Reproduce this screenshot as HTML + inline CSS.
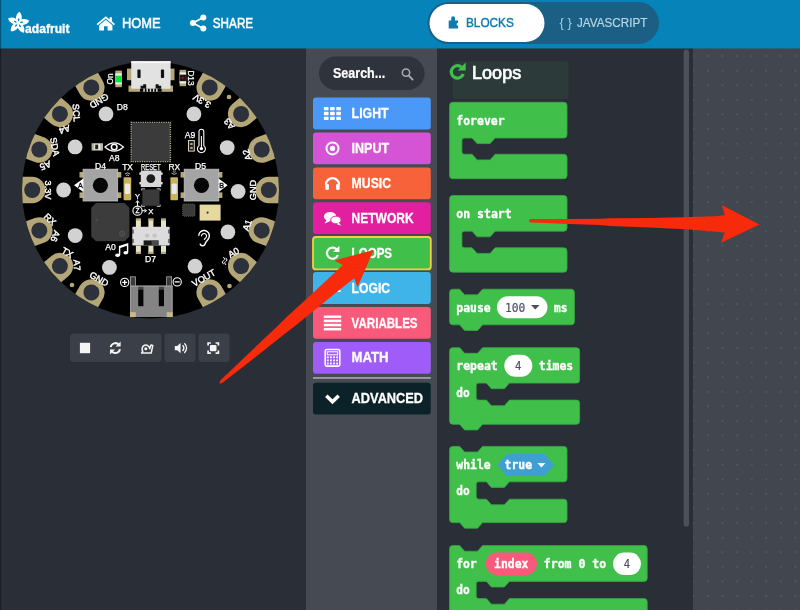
<!DOCTYPE html>
<html lang="en"><head><meta charset="utf-8"><title>MakeCode - Loops</title>
<style>
*{box-sizing:border-box;margin:0;padding:0}
html,body{width:800px;height:610px;overflow:hidden;background:#2a2f37;}
body{position:relative;font-family:"Liberation Sans",sans-serif;color:#fff;}
.abs{position:absolute}
#header{position:absolute;left:0;top:0;width:800px;height:48px;background:#0684b9;}
#sim{position:absolute;left:0;top:48px;width:306px;height:562px;background:#2a2f37;}
#toolbox{position:absolute;left:306px;top:48px;width:131px;height:562px;background:#454a53;}
#flyout{position:absolute;left:437px;top:48px;width:256px;height:562px;background:#2a2f37;}
#ws{position:absolute;left:693px;top:48px;width:107px;height:562px;background-color:#42464f;
 background-image:radial-gradient(circle at 1px 1px,#50555e 0.8px,rgba(80,85,94,0) 1.5px);background-size:14.6px 14.6px;background-position:13.9px 7.1px;}
svg{position:absolute;left:0;top:0;overflow:visible;will-change:transform}
text{white-space:pre}
</style></head>
<body>
<div id="sim"></div>
<div id="toolbox"></div>
<div id="flyout"></div>
<div id="ws"></div>
<svg width="800" height="610" viewBox="0 0 800 610">
<defs><clipPath id="bclip"><circle cx="150.5" cy="190.0" r="128.5"/></clipPath></defs>
<circle cx="150.5" cy="190.0" r="128.5" fill="#000"/>
<g clip-path="url(#bclip)">
<g transform="translate(91.35 87.55) rotate(-30.0)"><path d="M-13.2 0 V-16 H13.2 V0 A13.2 13.2 0 0 1 -13.2 0 Z" fill="#b4a676"/><circle cx="0" cy="0" r="8" fill="#2c313b"/></g>
<g transform="translate(59.88 113.96) rotate(-50.0)"><path d="M-13.2 0 V-16 H13.2 V0 A13.2 13.2 0 0 1 -13.2 0 Z" fill="#b4a676"/><circle cx="0" cy="0" r="8" fill="#2c313b"/></g>
<g transform="translate(39.33 149.54) rotate(-70.0)"><path d="M-13.2 0 V-16 H13.2 V0 A13.2 13.2 0 0 1 -13.2 0 Z" fill="#b4a676"/><circle cx="0" cy="0" r="8" fill="#2c313b"/></g>
<g transform="translate(32.20 190.00) rotate(-90.0)"><path d="M-13.2 0 V-16 H13.2 V0 A13.2 13.2 0 0 1 -13.2 0 Z" fill="#b4a676"/><circle cx="0" cy="0" r="8" fill="#2c313b"/></g>
<g transform="translate(39.33 230.46) rotate(-110.0)"><path d="M-13.2 0 V-16 H13.2 V0 A13.2 13.2 0 0 1 -13.2 0 Z" fill="#b4a676"/><circle cx="0" cy="0" r="8" fill="#2c313b"/></g>
<g transform="translate(59.88 266.04) rotate(-130.0)"><path d="M-13.2 0 V-16 H13.2 V0 A13.2 13.2 0 0 1 -13.2 0 Z" fill="#b4a676"/><circle cx="0" cy="0" r="8" fill="#2c313b"/></g>
<g transform="translate(91.35 292.45) rotate(-150.0)"><path d="M-13.2 0 V-16 H13.2 V0 A13.2 13.2 0 0 1 -13.2 0 Z" fill="#b4a676"/><circle cx="0" cy="0" r="8" fill="#2c313b"/></g>
<g transform="translate(209.65 87.55) rotate(30.0)"><path d="M-13.2 0 V-16 H13.2 V0 A13.2 13.2 0 0 1 -13.2 0 Z" fill="#b4a676"/><circle cx="0" cy="0" r="8" fill="#2c313b"/></g>
<g transform="translate(241.12 113.96) rotate(50.0)"><path d="M-13.2 0 V-16 H13.2 V0 A13.2 13.2 0 0 1 -13.2 0 Z" fill="#b4a676"/><circle cx="0" cy="0" r="8" fill="#2c313b"/></g>
<g transform="translate(261.67 149.54) rotate(70.0)"><path d="M-13.2 0 V-16 H13.2 V0 A13.2 13.2 0 0 1 -13.2 0 Z" fill="#b4a676"/><circle cx="0" cy="0" r="8" fill="#2c313b"/></g>
<g transform="translate(268.80 190.00) rotate(90.0)"><path d="M-13.2 0 V-16 H13.2 V0 A13.2 13.2 0 0 1 -13.2 0 Z" fill="#b4a676"/><circle cx="0" cy="0" r="8" fill="#2c313b"/></g>
<g transform="translate(261.67 230.46) rotate(110.0)"><path d="M-13.2 0 V-16 H13.2 V0 A13.2 13.2 0 0 1 -13.2 0 Z" fill="#b4a676"/><circle cx="0" cy="0" r="8" fill="#2c313b"/></g>
<g transform="translate(241.12 266.04) rotate(130.0)"><path d="M-13.2 0 V-16 H13.2 V0 A13.2 13.2 0 0 1 -13.2 0 Z" fill="#b4a676"/><circle cx="0" cy="0" r="8" fill="#2c313b"/></g>
<g transform="translate(209.65 292.45) rotate(150.0)"><path d="M-13.2 0 V-16 H13.2 V0 A13.2 13.2 0 0 1 -13.2 0 Z" fill="#b4a676"/><circle cx="0" cy="0" r="8" fill="#2c313b"/></g>
</g>
<circle cx="229.0" cy="97.0" r="2.3" fill="#b4a676"/>
<circle cx="229.5" cy="286.0" r="2.3" fill="#b4a676"/>
<circle cx="72.0" cy="285.0" r="2.3" fill="#b4a676"/>
<text x="99.15" y="104.37" font-family="Liberation Sans, sans-serif" font-size="9.20" fill="#fff" stroke="#fff" stroke-width="0.40" text-anchor="middle" transform="rotate(150.0 99.15 101.06)">GND</text>
<text x="76.44" y="116.11" font-family="Liberation Sans, sans-serif" font-size="9.20" fill="#fff" stroke="#fff" stroke-width="0.40" text-anchor="middle" transform="rotate(86.0 76.44 112.80)">SCL</text>
<text x="64.67" y="132.95" font-family="Liberation Sans, sans-serif" font-size="9.20" fill="#fff" stroke="#fff" stroke-width="0.40" text-anchor="middle" transform="rotate(163.0 64.67 129.64)">A4</text>
<text x="54.89" y="150.11" font-family="Liberation Sans, sans-serif" font-size="9.20" fill="#fff" stroke="#fff" stroke-width="0.40" text-anchor="middle" transform="rotate(80.0 54.89 146.80)">SDA</text>
<text x="45.50" y="168.91" font-family="Liberation Sans, sans-serif" font-size="9.20" fill="#fff" stroke="#fff" stroke-width="0.40" text-anchor="middle" transform="rotate(159.0 45.50 165.60)">A5</text>
<text x="47.80" y="193.31" font-family="Liberation Sans, sans-serif" font-size="9.20" fill="#fff" stroke="#fff" stroke-width="0.40" text-anchor="middle" transform="rotate(90.0 47.80 190.00)">3.3V</text>
<text x="50.17" y="222.55" font-family="Liberation Sans, sans-serif" font-size="9.20" fill="#fff" stroke="#fff" stroke-width="0.40" text-anchor="middle" transform="rotate(44.0 50.17 219.24)">RX</text>
<text x="55.31" y="239.59" font-family="Liberation Sans, sans-serif" font-size="9.20" fill="#fff" stroke="#fff" stroke-width="0.40" text-anchor="middle" transform="rotate(110.0 55.31 236.28)">A6</text>
<text x="67.44" y="255.71" font-family="Liberation Sans, sans-serif" font-size="9.20" fill="#fff" stroke="#fff" stroke-width="0.40" text-anchor="middle" transform="rotate(29.0 67.44 252.40)">TX</text>
<text x="77.05" y="268.45" font-family="Liberation Sans, sans-serif" font-size="9.20" fill="#fff" stroke="#fff" stroke-width="0.40" text-anchor="middle" transform="rotate(87.0 77.05 265.14)">A7</text>
<text x="99.15" y="282.25" font-family="Liberation Sans, sans-serif" font-size="9.20" fill="#fff" stroke="#fff" stroke-width="0.40" text-anchor="middle" transform="rotate(30.0 99.15 278.94)">GND</text>
<text x="201.85" y="104.37" font-family="Liberation Sans, sans-serif" font-size="9.20" fill="#fff" stroke="#fff" stroke-width="0.40" text-anchor="middle" transform="rotate(210.0 201.85 101.06)">3.3V</text>
<text x="229.17" y="127.30" font-family="Liberation Sans, sans-serif" font-size="9.20" fill="#fff" stroke="#fff" stroke-width="0.40" text-anchor="middle" transform="rotate(230.0 229.17 123.99)">A3</text>
<text x="247.01" y="158.19" font-family="Liberation Sans, sans-serif" font-size="9.20" fill="#fff" stroke="#fff" stroke-width="0.40" text-anchor="middle" transform="rotate(250.0 247.01 154.87)">A2</text>
<text x="253.20" y="193.31" font-family="Liberation Sans, sans-serif" font-size="9.20" fill="#fff" stroke="#fff" stroke-width="0.40" text-anchor="middle" transform="rotate(270.0 253.20 190.00)">GND</text>
<text x="247.01" y="228.44" font-family="Liberation Sans, sans-serif" font-size="9.20" fill="#fff" stroke="#fff" stroke-width="0.40" text-anchor="middle" transform="rotate(290.0 247.01 225.13)">A1</text>
<path d="M-3.4 1.2 q1.7 -3.6 3.4 -1.2 q1.7 2.4 3.4 -1.2 M-3.4 3.6 q1.7 -3.6 3.4 -1.2 q1.7 2.4 3.4 -1.2" transform="translate(225.44 261.25) rotate(-73.0) translate(0 -2)" fill="none" stroke="#fff" stroke-width="0.9"/>
<text x="233.56" y="255.71" font-family="Liberation Sans, sans-serif" font-size="9.20" fill="#fff" stroke="#fff" stroke-width="0.40" text-anchor="middle" transform="rotate(-29.0 233.56 252.40)">A0</text>
<text x="204.05" y="282.25" font-family="Liberation Sans, sans-serif" font-size="9.20" fill="#fff" stroke="#fff" stroke-width="0.40" text-anchor="middle" transform="rotate(330.0 201.85 278.94)">VOUT</text>
<circle cx="106.00" cy="113.90" r="7.4" fill="#d2d2d2"/>
<circle cx="75.10" cy="146.90" r="7.4" fill="#d2d2d2"/>
<circle cx="63.60" cy="190.00" r="7.4" fill="#d2d2d2"/>
<circle cx="75.20" cy="235.60" r="7.4" fill="#d2d2d2"/>
<circle cx="109.40" cy="267.40" r="7.4" fill="#d2d2d2"/>
<circle cx="193.90" cy="113.90" r="7.4" fill="#d2d2d2"/>
<circle cx="227.20" cy="147.60" r="7.4" fill="#d2d2d2"/>
<circle cx="238.10" cy="191.40" r="7.4" fill="#d2d2d2"/>
<circle cx="227.90" cy="231.90" r="7.4" fill="#d2d2d2"/>
<circle cx="195.00" cy="266.20" r="7.4" fill="#d2d2d2"/>
<rect x="127" y="68.6" width="47.5" height="11.6" fill="#b4a676"/>
<rect x="128.5" y="85.6" width="44.5" height="6.2" fill="#b4a676"/>
<rect x="131.2" y="61.2" width="39.4" height="27.6" rx="1" fill="#e2e2e2"/>
<rect x="131.2" y="61.2" width="39.4" height="2" fill="#f6f6f6"/>
<rect x="137.4" y="69.6" width="3.2" height="8.4" rx="0.8" fill="#111"/><rect x="160.9" y="69.6" width="3.2" height="8.4" rx="0.8" fill="#111"/>
<path d="M140.6 88.8 v-3 h2.6 v-1.6 h3 v4.6 Z M161.2 88.8 v-3 h-2.6 v-1.6 h-3 v4.6 Z" fill="#111"/>
<rect x="140" y="88.8" width="21.6" height="3" fill="#000"/><rect x="143.30" y="88.6" width="1.5" height="3.2" fill="#d8d8d8"/><rect x="146.50" y="88.6" width="1.5" height="3.2" fill="#d8d8d8"/><rect x="149.70" y="88.6" width="1.5" height="3.2" fill="#d8d8d8"/><rect x="152.90" y="88.6" width="1.5" height="3.2" fill="#d8d8d8"/><rect x="156.10" y="88.6" width="1.5" height="3.2" fill="#d8d8d8"/>
<rect x="115.3" y="70.6" width="6.6" height="16.6" fill="#b4a676"/><rect x="115.3" y="73.4" width="6.6" height="11" fill="#f0f0f0"/><rect x="115.3" y="75.6" width="6.6" height="6.8" fill="#0fe23a"/>
<text x="110.20" y="79.00" dy="2.9" font-family="Liberation Sans, sans-serif" font-size="8.30" font-weight="normal" fill="#fff" stroke="#fff" stroke-width="0.25" text-anchor="middle" transform="rotate(-90.0 110.20 79.00)">On</text>
<rect x="179.6" y="69.8" width="6.5" height="16.4" fill="#b4a676"/><rect x="179.6" y="72.4" width="6.5" height="11" fill="#f0f0f0"/><rect x="179.6" y="74.6" width="6.5" height="6.6" fill="#1a1a1a"/><circle cx="182.6" cy="77.8" r="0.9" fill="#e01010"/>
<text x="190.90" y="78.00" dy="2.9" font-family="Liberation Sans, sans-serif" font-size="8.30" font-weight="normal" fill="#fff" stroke="#fff" stroke-width="0.25" text-anchor="middle" transform="rotate(90.0 190.90 78.00)">D13</text>
<text x="122.30" y="110.20" font-family="Liberation Sans, sans-serif" font-size="8.60" font-weight="normal" fill="#fff" stroke="#fff" stroke-width="0.25" text-anchor="middle">D8</text>
<rect x="131.2" y="122.4" width="39.2" height="39.2" fill="#3a3a3a" stroke="#b5b094" stroke-width="1.4" stroke-dasharray="1.1 1.2"/>
<rect x="132.6" y="123.8" width="36.4" height="36.4" fill="#3b3b3b"/>
<rect x="91.6" y="143.2" width="11.4" height="7.4" fill="#b8b4a0"/><rect x="94.2" y="143.8" width="6.2" height="6.2" fill="#ecebe6"/><rect x="95.2" y="144.6" width="3" height="4.6" fill="#222"/>
<path d="M105 147 Q114.2 138.6 123.4 147 Q114.2 155.4 105 147 Z" fill="none" stroke="#fff" stroke-width="1.2"/><circle cx="114.2" cy="147" r="2.8" fill="none" stroke="#fff" stroke-width="1.5"/>
<text x="114.20" y="160.60" font-family="Liberation Sans, sans-serif" font-size="8.60" font-weight="normal" fill="#fff" stroke="#fff" stroke-width="0.25" text-anchor="middle">A8</text>
<rect x="188" y="140" width="6.8" height="11.6" fill="#d6d4c8"/><rect x="189" y="141" width="4.8" height="9.6" fill="#222"/><rect x="190.2" y="143" width="2.4" height="2" fill="#b4a676"/><rect x="190.2" y="147" width="2.4" height="2" fill="#b4a676"/>
<text x="190.00" y="138.20" font-family="Liberation Sans, sans-serif" font-size="8.60" font-weight="normal" fill="#fff" stroke="#fff" stroke-width="0.25" text-anchor="middle">A9</text>
<path d="M199 145.6 V131.6 a2.4 2.4 0 0 1 4.8 0 V145.6 a4 4 0 1 1 -4.8 0 Z" fill="none" stroke="#fff" stroke-width="1.1"/><circle cx="201.4" cy="148.6" r="1.7" fill="#fff"/><line x1="201.4" y1="136" x2="201.4" y2="148" stroke="#fff" stroke-width="1"/>
<rect x="79.5" y="172" width="41.8" height="5.6" fill="#b4a676"/><rect x="79.5" y="192.4" width="41.8" height="5.6" fill="#b4a676"/>
<rect x="83.1" y="169.2" width="34.6" height="31.8" fill="#a4a4a4" stroke="#c4c4c4" stroke-width="0.8"/>
<circle cx="100.4" cy="185.3" r="7.6" fill="#060606"/>
<text x="100.60" y="169.00" font-family="Liberation Sans, sans-serif" font-size="8.60" font-weight="normal" fill="#fff" stroke="#fff" stroke-width="0.25" text-anchor="middle">D4</text>
<rect x="180.6" y="172" width="41.8" height="5.6" fill="#b4a676"/><rect x="180.6" y="192.4" width="41.8" height="5.6" fill="#b4a676"/>
<rect x="184.2" y="169.2" width="34.6" height="31.8" fill="#a4a4a4" stroke="#c4c4c4" stroke-width="0.8"/>
<circle cx="201.5" cy="185.3" r="7.6" fill="#060606"/>
<text x="200.50" y="169.00" font-family="Liberation Sans, sans-serif" font-size="8.60" font-weight="normal" fill="#fff" stroke="#fff" stroke-width="0.25" text-anchor="middle">D5</text>
<path d="M74 185.2 L83.4 178.6 V192 Z" fill="#fff"/><text x="80.40" y="188.00" font-family="Liberation Sans, sans-serif" font-size="7.20" font-weight="normal" fill="#000" stroke="#000" stroke-width="0.30" text-anchor="middle">A</text>
<path d="M227.6 185.2 L218.6 178.6 V192 Z" fill="#fff"/><text x="221.60" y="188.00" font-family="Liberation Sans, sans-serif" font-size="7.20" font-weight="normal" fill="#000" stroke="#000" stroke-width="0.30" text-anchor="middle">B</text>
<rect x="123.6" y="177.2" width="7.6" height="23" rx="1" fill="#c9b45c"/><rect x="124.8" y="183.4" width="5.2" height="10.6" rx="1.6" fill="#e9e8ee"/>
<text x="127.50" y="169.60" font-family="Liberation Sans, sans-serif" font-size="8.40" font-weight="normal" fill="#fff" stroke="#fff" stroke-width="0.25" text-anchor="middle">TX</text>
<rect x="170.4" y="177.2" width="7.6" height="23" rx="1" fill="#c9b45c"/><rect x="171.6" y="183.4" width="5.2" height="10.6" rx="1.6" fill="#e9e8ee"/>
<text x="174.30" y="169.60" font-family="Liberation Sans, sans-serif" font-size="8.40" font-weight="normal" fill="#fff" stroke="#fff" stroke-width="0.25" text-anchor="middle">RX</text>
<path d="M125 174 q2.6 -2.2 5.2 0 M126.2 175.6 q1.4 -1.2 2.8 0" fill="none" stroke="#fff" stroke-width="0.7"/><path d="M171.6 173.2 q2.6 2.2 5.2 0 M172.8 171.6 q1.4 1.2 2.8 0" fill="none" stroke="#fff" stroke-width="0.7"/>
<rect x="139.4" y="172.4" width="23.2" height="2.4" fill="#e6e6e6"/><rect x="139.4" y="182" width="23.2" height="2.4" fill="#e6e6e6"/><rect x="140.8" y="170.6" width="20.4" height="16.4" fill="#d9d9d9"/><circle cx="150.8" cy="178.6" r="4.4" fill="#1c1c1c"/>
<text textLength="19.6" lengthAdjust="spacingAndGlyphs" x="150.80" y="169.60" font-family="Liberation Sans, sans-serif" font-size="8.20" font-weight="normal" fill="#fff" stroke="#fff" stroke-width="0.25" text-anchor="middle">RESET</text>
<rect x="142.3" y="189.4" width="17.2" height="16.4" fill="#3a3a3a"/><path d="M141.6 190.6 v-1.8 h3.4 M156.8 188.8 h3.4 v1.8 M160.2 204.6 v1.8 h-3.4 M145 206.4 h-3.4 v-1.8" fill="none" stroke="#e8e8e8" stroke-width="0.8"/>
<circle cx="137.5" cy="210.7" r="4.6" fill="none" stroke="#fff" stroke-width="1.1"/><text x="137.50" y="213.20" font-family="Liberation Sans, sans-serif" font-size="6.60" font-weight="normal" fill="#fff" stroke="#fff" stroke-width="0.30" text-anchor="middle">Z</text>
<path d="M137.5 206 V201.4 M135.9 202.8 L137.5 200.6 L139.1 202.8 M142.2 210.7 H145.6 M144.4 209.2 L146.6 210.7 L144.4 212.2" fill="none" stroke="#fff" stroke-width="1"/><text x="137.50" y="198.60" font-family="Liberation Sans, sans-serif" font-size="7.40" font-weight="normal" fill="#fff" stroke="#fff" stroke-width="0.25" text-anchor="middle">Y</text>
<text x="150.80" y="213.60" font-family="Liberation Sans, sans-serif" font-size="7.80" font-weight="normal" fill="#fff" stroke="#fff" stroke-width="0.25" text-anchor="middle">X</text>
<path d="M96 203 H124.6 L129.4 207.8 V236.4 L124.6 241.2 H96 L91.2 236.4 V207.8 Z" fill="#3c3c3c"/><circle cx="122.2" cy="233.6" r="2.6" fill="none" stroke="#5a5a5a" stroke-width="0.9"/><path d="M120.8 233.6 h2.8 M122.2 232.2 v2.8" stroke="#5a5a5a" stroke-width="0.6"/><path d="M97.6 218.4 l-2.6 1.8 l2.6 1.8 Z" fill="#4e4e4e"/>
<text x="110.60" y="249.60" font-family="Liberation Sans, sans-serif" font-size="8.60" font-weight="normal" fill="#fff" stroke="#fff" stroke-width="0.25" text-anchor="middle">A0</text>
<path d="M119.6 255 V246.6 L127.6 244 V252.6" fill="none" stroke="#fff" stroke-width="1.4"/><path d="M119.6 246.6 L127.6 244 v1.6 L119.6 248.2 Z" fill="#fff"/><ellipse cx="117.6" cy="255.2" rx="2.4" ry="1.8" fill="#fff"/><ellipse cx="125.8" cy="252.8" rx="2.4" ry="1.8" fill="#fff"/>
<rect x="135.9" y="218.6" width="5" height="8.4" fill="#e8e2c4"/><rect x="135.9" y="245.6" width="5" height="8.2" fill="#e8e2c4"/><rect x="135.9" y="218.6" width="5" height="2" fill="#b4a676"/><rect x="135.9" y="251.8" width="5" height="2" fill="#b4a676"/><rect x="148.4" y="218.6" width="5" height="8.4" fill="#e8e2c4"/><rect x="148.4" y="245.6" width="5" height="8.2" fill="#e8e2c4"/><rect x="148.4" y="218.6" width="5" height="2" fill="#b4a676"/><rect x="148.4" y="251.8" width="5" height="2" fill="#b4a676"/><rect x="161.0" y="218.6" width="5" height="8.4" fill="#e8e2c4"/><rect x="161.0" y="245.6" width="5" height="8.2" fill="#e8e2c4"/><rect x="161.0" y="218.6" width="5" height="2" fill="#b4a676"/><rect x="161.0" y="251.8" width="5" height="2" fill="#b4a676"/><rect x="132.3" y="226.8" width="37.4" height="18.8" rx="1" fill="#dcdcdc"/><rect x="143.6" y="240.4" width="15" height="5" fill="#1a1a1a"/><rect x="151.6" y="240.8" width="6.4" height="4.2" fill="#4a4a4a"/><circle cx="147" cy="235.6" r="2.2" fill="#c4c4c4"/><circle cx="154.6" cy="235.6" r="2.2" fill="#c4c4c4"/><path d="M133 229.4 v4 M133 239 v4 M169 229.4 v4 M169 239 v4" stroke="#222" stroke-width="1.1"/>
<text x="150.60" y="261.60" font-family="Liberation Sans, sans-serif" font-size="8.60" font-weight="normal" fill="#fff" stroke="#fff" stroke-width="0.25" text-anchor="middle">D7</text>
<rect x="182.6" y="204" width="12.4" height="12.2" rx="1.2" fill="#3a3a3a" stroke="#6b6758" stroke-width="0.8" stroke-dasharray="1 1"/><rect x="199.6" y="204.6" width="21" height="16" fill="#e6d9a0"/><circle cx="207.6" cy="212.6" r="1.1" fill="#3a3420"/>
<g transform="translate(203.9 237.9) scale(1.16) translate(-204.7 -238.3)"><path d="M200.2 236.4 a4.6 4.6 0 1 1 9 1.4 q-0.8 2.2 -2.2 3.4 q-1.2 1.2 -1.4 2.6 a2.2 2.2 0 0 1 -4.2 -0.6" fill="none" stroke="#fff" stroke-width="1.25"/><path d="M202.6 236.8 a2.2 2.2 0 1 1 3.6 1.6 q-1 0.6 -1.2 1.6" fill="none" stroke="#fff" stroke-width="1"/></g>
<rect x="130.4" y="276.8" width="5" height="9.6" fill="#3c3c3c" stroke="#a6a6a6" stroke-width="0.8"/><rect x="166.6" y="276.8" width="5" height="9.6" fill="#3c3c3c" stroke="#a6a6a6" stroke-width="0.8"/><rect x="130" y="285.6" width="42.6" height="31.4" fill="#848484"/><rect x="130" y="285.6" width="42.6" height="1.2" fill="#9c9c9c"/><rect x="130" y="285.6" width="1" height="31.4" fill="#9a9a9a"/><rect x="171.6" y="285.6" width="1" height="31.4" fill="#9a9a9a"/><rect x="138.2" y="286.8" width="5.2" height="3" fill="#444"/><rect x="158.8" y="286.8" width="5.2" height="3" fill="#444"/><rect x="138.2" y="289.6" width="5.2" height="16.6" fill="#050505"/><rect x="158.8" y="289.6" width="5.2" height="16.6" fill="#050505"/><rect x="130" y="312.2" width="5.8" height="4.8" fill="#c9bb82"/><rect x="166.8" y="312.2" width="5.8" height="4.8" fill="#c9bb82"/>
<circle cx="124.7" cy="282.4" r="4.1" fill="none" stroke="#fff" stroke-width="1.1"/><path d="M122.2 282.4 h5 M124.7 279.9 v5" stroke="#fff" stroke-width="1.3"/><circle cx="177.2" cy="281.9" r="4.1" fill="none" stroke="#fff" stroke-width="1.1"/><path d="M174.7 281.9 h5" stroke="#fff" stroke-width="1.3"/>
</svg>
<svg width="800" height="610" viewBox="0 0 800 610">
<rect x="70" y="333.5" width="91.5" height="28.5" rx="3.5" fill="#3b3f47"/>
<rect x="164.5" y="333.5" width="31" height="28.5" rx="3.5" fill="#3b3f47"/>
<rect x="198.5" y="333.5" width="31" height="28.5" rx="3.5" fill="#3b3f47"/>
<g transform="translate(0 0.4)">
<rect x="79.9" y="342.4" width="10.2" height="10.4" fill="#f4f4f4"/>
<path d="M110.7 346.7 a4.7 4.7 0 0 1 8.2 -2.3" fill="none" stroke="#f4f4f4" stroke-width="2"/><path d="M120.6 341.2 v5 h-5 Z" fill="#f4f4f4"/><path d="M119.9 348.7 a4.7 4.7 0 0 1 -8.2 2.3" fill="none" stroke="#f4f4f4" stroke-width="2"/><path d="M110 354.2 v-5 h5 Z" fill="#f4f4f4"/>
<path d="M141.6 352.6 h9.6 l1.6 -7.4 l-1.9 -0.5 l-1.2 3.6 a3.8 3.8 0 1 0 -6.9 2.4 Z" fill="none" stroke="#f4f4f4" stroke-width="1.5" stroke-linejoin="round"/><circle cx="145.8" cy="348.3" r="1.5" fill="#f4f4f4"/>
<path d="M174.8 345.6 h2.4 l3.4 -3 v10.2 l-3.4 -3 h-2.4 Z" fill="#f4f4f4"/><path d="M182.5 344.8 a3.8 3.8 0 0 1 0 5.8" fill="none" stroke="#f4f4f4" stroke-width="1.5"/><path d="M184.3 342.9 a6.2 6.2 0 0 1 0 9.6" fill="none" stroke="#f4f4f4" stroke-width="1.3"/>
<rect x="209.9" y="344.5" width="6.6" height="6.4" rx="1.2" fill="#f4f4f4"/><path d="M208.1 345.2 v-2.6 h2.8 M215.6 342.6 h2.8 v2.6 M218.4 350.2 v2.6 h-2.8 M210.9 352.8 h-2.8 v-2.6" fill="none" stroke="#f4f4f4" stroke-width="1.7"/>
</g>
</svg>
<svg width="800" height="610" viewBox="0 0 800 610">
<rect x="319" y="56.5" width="105.5" height="33.5" rx="16.75" fill="#2f333b"/>
<text x="333" y="78.3" font-family="Liberation Sans, sans-serif" font-weight="bold" font-size="14.4" fill="#fff" stroke="#fff" stroke-width="0.2" textLength="52.2" lengthAdjust="spacingAndGlyphs">Search...</text>
<circle cx="406" cy="72.6" r="3.7" fill="none" stroke="#a9adb3" stroke-width="1.5"/><line x1="408.8" y1="75.6" x2="412.6" y2="79.6" stroke="#a9adb3" stroke-width="1.8" stroke-linecap="round"/>
<rect x="313" y="97.60" width="117.8" height="31.80" rx="3" fill="#4a98f8"/>
<rect x="323.90" y="106.90" width="4.6" height="3.4" rx="0.6" fill="#fff"/><rect x="330.10" y="106.90" width="4.6" height="3.4" rx="0.6" fill="#fff"/><rect x="336.30" y="106.90" width="4.6" height="3.4" rx="0.6" fill="#fff"/><rect x="323.90" y="111.80" width="4.6" height="3.4" rx="0.6" fill="#fff"/><rect x="330.10" y="111.80" width="4.6" height="3.4" rx="0.6" fill="#fff"/><rect x="336.30" y="111.80" width="4.6" height="3.4" rx="0.6" fill="#fff"/><rect x="323.90" y="116.70" width="4.6" height="3.4" rx="0.6" fill="#fff"/><rect x="330.10" y="116.70" width="4.6" height="3.4" rx="0.6" fill="#fff"/><rect x="336.30" y="116.70" width="4.6" height="3.4" rx="0.6" fill="#fff"/>
<text x="351.6" y="118.10" font-family="Liberation Sans, sans-serif" font-weight="bold" font-size="14.5" fill="#fff" stroke="#fff" stroke-width="0.3" textLength="37.0" lengthAdjust="spacingAndGlyphs">LIGHT</text>
<rect x="313" y="132.50" width="117.8" height="31.80" rx="3" fill="#d553d5"/>
<circle cx="332.50" cy="148.40" r="6" fill="none" stroke="#fff" stroke-width="2"/><circle cx="332.50" cy="148.40" r="2.6" fill="#fff"/>
<text x="351.6" y="153.00" font-family="Liberation Sans, sans-serif" font-weight="bold" font-size="14.5" fill="#fff" stroke="#fff" stroke-width="0.3" textLength="37.5" lengthAdjust="spacingAndGlyphs">INPUT</text>
<rect x="313" y="167.40" width="117.8" height="31.80" rx="3" fill="#f7623b"/>
<path d="M325.90 184.80 a6.6 6.6 0 0 1 13.2 0" fill="none" stroke="#fff" stroke-width="2.2"/><rect x="325.30" y="183.90" width="3.6" height="6" rx="1.2" fill="#fff"/><rect x="336.10" y="183.90" width="3.6" height="6" rx="1.2" fill="#fff"/>
<text x="351.6" y="187.90" font-family="Liberation Sans, sans-serif" font-weight="bold" font-size="14.5" fill="#fff" stroke="#fff" stroke-width="0.3" textLength="39.5" lengthAdjust="spacingAndGlyphs">MUSIC</text>
<rect x="313" y="202.30" width="117.8" height="31.80" rx="3" fill="#e11f9f"/>
<ellipse cx="330.10" cy="216.60" rx="6.2" ry="4.6" fill="#fff"/><path d="M326.90 219.40 l-2.4 4.2 l5 -2.2 Z" fill="#fff"/><ellipse cx="335.90" cy="220.00" rx="5.2" ry="3.9" fill="#fff" stroke="#e11f9f" stroke-width="1"/><path d="M338.70 222.40 l2.6 3.4 l-4.6 -1.6 Z" fill="#fff"/>
<text x="351.6" y="222.80" font-family="Liberation Sans, sans-serif" font-weight="bold" font-size="14.5" fill="#fff" stroke="#fff" stroke-width="0.3" textLength="62.0" lengthAdjust="spacingAndGlyphs">NETWORK</text>
<rect x="313" y="237.00" width="117.8" height="32.40" rx="3" fill="#40bf4b" stroke="#f4cf3e" stroke-width="1.8"/>
<path d="M336.50 249.20 A5.6 5.6 0 1 0 337.80 255.00" fill="none" stroke="#fff" stroke-width="2.2"/><path d="M339.40 245.70 v6.4 h-6.4 Z" fill="#fff"/>
<text x="351.6" y="257.70" font-family="Liberation Sans, sans-serif" font-weight="bold" font-size="14.5" fill="#fff" stroke="#fff" stroke-width="0.3" textLength="40.5" lengthAdjust="spacingAndGlyphs">LOOPS</text>
<rect x="313" y="272.10" width="117.8" height="31.80" rx="3" fill="#3fb4e8"/>
<path d="M324.50 285.00 h12 M328.50 291.00 h12" stroke="#fff" stroke-width="2" fill="none"/><path d="M336.00 282.00 l4 3 l-4 3Z M329.00 288.00 l-4 3 l4 3Z" fill="#fff"/>
<text x="351.6" y="292.60" font-family="Liberation Sans, sans-serif" font-weight="bold" font-size="14.5" fill="#fff" stroke="#fff" stroke-width="0.3" textLength="38.5" lengthAdjust="spacingAndGlyphs">LOGIC</text>
<rect x="313" y="307.00" width="117.8" height="31.80" rx="3" fill="#f85a7b"/>
<rect x="323.80" y="315.50" width="17.4" height="2.5" fill="#fff"/><rect x="323.80" y="319.65" width="17.4" height="2.5" fill="#fff"/><rect x="323.80" y="323.80" width="17.4" height="2.5" fill="#fff"/><rect x="323.80" y="327.95" width="17.4" height="2.5" fill="#fff"/>
<text x="351.6" y="327.50" font-family="Liberation Sans, sans-serif" font-weight="bold" font-size="14.5" fill="#fff" stroke="#fff" stroke-width="0.3" textLength="66.0" lengthAdjust="spacingAndGlyphs">VARIABLES</text>
<rect x="313" y="341.90" width="117.8" height="31.80" rx="3" fill="#a05cf8"/>
<rect x="325.20" y="349.50" width="14.6" height="16.6" rx="1.6" fill="none" stroke="#fff" stroke-width="1.6"/><rect x="327.30" y="351.80" width="10.4" height="3" fill="none" stroke="#fff" stroke-width="1"/><rect x="326.90" y="356.40" width="1.8" height="1.8" fill="#fff"/><rect x="330.00" y="356.40" width="1.8" height="1.8" fill="#fff"/><rect x="333.10" y="356.40" width="1.8" height="1.8" fill="#fff"/><rect x="336.20" y="356.40" width="1.8" height="1.8" fill="#fff"/><rect x="326.90" y="359.50" width="1.8" height="1.8" fill="#fff"/><rect x="330.00" y="359.50" width="1.8" height="1.8" fill="#fff"/><rect x="333.10" y="359.50" width="1.8" height="1.8" fill="#fff"/><rect x="336.20" y="359.50" width="1.8" height="1.8" fill="#fff"/><rect x="326.90" y="362.60" width="1.8" height="1.8" fill="#fff"/><rect x="330.00" y="362.60" width="1.8" height="1.8" fill="#fff"/><rect x="333.10" y="362.60" width="1.8" height="1.8" fill="#fff"/><rect x="336.20" y="362.60" width="1.8" height="1.8" fill="#fff"/>
<text x="351.6" y="362.40" font-family="Liberation Sans, sans-serif" font-weight="bold" font-size="14.5" fill="#fff" stroke="#fff" stroke-width="0.3" textLength="37.0" lengthAdjust="spacingAndGlyphs">MATH</text>
<rect x="313" y="382.70" width="117.8" height="31.80" rx="3" fill="#0c2229"/>
<path d="M326.30 395.70 l6.2 6 l6.2 -6" fill="none" stroke="#fff" stroke-width="3.5" stroke-linejoin="miter"/>
<text x="351.6" y="403.20" font-family="Liberation Sans, sans-serif" font-weight="bold" font-size="14.5" fill="#fff" stroke="#fff" stroke-width="0.3" textLength="71.5" lengthAdjust="spacingAndGlyphs">ADVANCED</text>
<rect x="313" y="377.0" width="117.8" height="1.9" fill="#979a9f"/>
</svg>
<svg width="800" height="610" viewBox="0 0 800 610">
<rect x="683.6" y="49.6" width="5.4" height="477" rx="2.7" fill="#4b5059"/>
<rect x="453" y="61.5" width="115.5" height="37.5" rx="2" fill="#2d3a3a"/>
<g transform="translate(-1.3 0.4)"><path d="M462.6 66.6 A6.2 6.2 0 1 0 464.6 73.6" fill="none" stroke="#40bf4b" stroke-width="3.2"/><path d="M467 62.2 v8 h-8 Z" fill="#40bf4b"/></g>
<text x="472" y="79" font-family="Liberation Sans, sans-serif" font-weight="normal" font-size="18.4" fill="#fff" stroke="#fff" stroke-width="0.7" textLength="49.2" lengthAdjust="spacingAndGlyphs">Loops</text>
<path d="M452.80 102.30 H563.80 a3.2 3.2 0 0 1 3.2 3.2 V134.80 a3.2 3.2 0 0 1 -3.2 3.2 H495.10 l-5 5.6 h-13 l-5 -5.6 H464.30 a2.4 2.4 0 0 0 -2.4 2.4 V151.90 a2.4 2.4 0 0 0 2.4 2.4 H472.10 l5 5.6 h13 l5 -5.6 H563.80 a3.2 3.2 0 0 1 3.2 3.2 V175.50 a3.2 3.2 0 0 1 -3.2 3.2 H452.80 a3.2 3.2 0 0 1 -3.2 -3.2 V105.50 a3.2 3.2 0 0 1 3.2 -3.2 Z" fill="#40bf4b" stroke="#38a943" stroke-width="0.8"/>
<text x="456.30" y="124.95" font-family="DejaVu Sans Mono, Liberation Mono, monospace" font-size="13.00" font-weight="bold" fill="#fff" stroke="#fff" stroke-width="0.35" text-anchor="start" textLength="48.40" lengthAdjust="spacingAndGlyphs">forever</text>
<path d="M452.80 195.50 H563.80 a3.2 3.2 0 0 1 3.2 3.2 V228.00 a3.2 3.2 0 0 1 -3.2 3.2 H495.10 l-5 5.6 h-13 l-5 -5.6 H464.30 a2.4 2.4 0 0 0 -2.4 2.4 V245.40 a2.4 2.4 0 0 0 2.4 2.4 H472.10 l5 5.6 h13 l5 -5.6 H563.80 a3.2 3.2 0 0 1 3.2 3.2 V269.00 a3.2 3.2 0 0 1 -3.2 3.2 H452.80 a3.2 3.2 0 0 1 -3.2 -3.2 V198.70 a3.2 3.2 0 0 1 3.2 -3.2 Z" fill="#40bf4b" stroke="#38a943" stroke-width="0.8"/>
<text x="456.30" y="217.95" font-family="DejaVu Sans Mono, Liberation Mono, monospace" font-size="13.00" font-weight="bold" fill="#fff" stroke="#fff" stroke-width="0.35" text-anchor="start" textLength="55.40" lengthAdjust="spacingAndGlyphs">on start</text>
<path d="M452.80 289.20 H459.60 l5 5.6 h13 l5 -5.6 H571.20 a3.2 3.2 0 0 1 3.2 3.2 V321.60 a3.2 3.2 0 0 1 -3.2 3.2 H482.60 l-5 5.6 h-13 l-5 -5.6 H452.80 a3.2 3.2 0 0 1 -3.2 -3.2 V292.40 a3.2 3.2 0 0 1 3.2 -3.2 Z" fill="#40bf4b" stroke="#38a943" stroke-width="0.8"/>
<text x="456.30" y="311.65" font-family="DejaVu Sans Mono, Liberation Mono, monospace" font-size="13.00" font-weight="bold" fill="#fff" stroke="#fff" stroke-width="0.35" text-anchor="start" textLength="34.40" lengthAdjust="spacingAndGlyphs">pause</text>
<rect x="496.90" y="296.20" width="50.60" height="22.00" rx="11.00" fill="#fff"/>
<text x="505.00" y="311.65" font-family="DejaVu Sans Mono, Liberation Mono, monospace" font-size="13.00" font-weight="normal" fill="#4a4d63" stroke="#4a4d63" stroke-width="0.15" text-anchor="start" textLength="20.40" lengthAdjust="spacingAndGlyphs">100</text>
<path d="M531 305 h8.6 l-4.3 4.6 Z" fill="#4a4d63"/>
<text x="554.00" y="311.65" font-family="DejaVu Sans Mono, Liberation Mono, monospace" font-size="13.00" font-weight="bold" fill="#fff" stroke="#fff" stroke-width="0.35" text-anchor="start" textLength="13.40" lengthAdjust="spacingAndGlyphs">ms</text>
<path d="M452.80 347.70 H459.60 l5 5.6 h13 l5 -5.6 H576.40 a3.2 3.2 0 0 1 3.2 3.2 V379.90 a3.2 3.2 0 0 1 -3.2 3.2 H509.40 l-5 5.6 h-13 l-5 -5.6 H478.60 a2.4 2.4 0 0 0 -2.4 2.4 V397.70 a2.4 2.4 0 0 0 2.4 2.4 H486.40 l5 5.6 h13 l5 -5.6 H576.40 a3.2 3.2 0 0 1 3.2 3.2 V421.10 a3.2 3.2 0 0 1 -3.2 3.2 H482.60 l-5 5.6 h-13 l-5 -5.6 H452.80 a3.2 3.2 0 0 1 -3.2 -3.2 V350.90 a3.2 3.2 0 0 1 3.2 -3.2 Z" fill="#40bf4b" stroke="#38a943" stroke-width="0.8"/>
<text x="456.30" y="370.35" font-family="DejaVu Sans Mono, Liberation Mono, monospace" font-size="13.00" font-weight="bold" fill="#fff" stroke="#fff" stroke-width="0.35" text-anchor="start" textLength="41.40" lengthAdjust="spacingAndGlyphs">repeat</text>
<rect x="504.30" y="354.70" width="28.00" height="22.00" rx="11.00" fill="#fff"/>
<text x="518.30" y="370.35" font-family="DejaVu Sans Mono, Liberation Mono, monospace" font-size="13.00" font-weight="normal" fill="#4a4d63" stroke="#4a4d63" stroke-width="0.15" text-anchor="middle" textLength="6.40" lengthAdjust="spacingAndGlyphs">4</text>
<text x="538.80" y="370.35" font-family="DejaVu Sans Mono, Liberation Mono, monospace" font-size="13.00" font-weight="bold" fill="#fff" stroke="#fff" stroke-width="0.35" text-anchor="start" textLength="34.40" lengthAdjust="spacingAndGlyphs">times</text>
<text x="456.30" y="396.65" font-family="DejaVu Sans Mono, Liberation Mono, monospace" font-size="13.00" font-weight="bold" fill="#fff" stroke="#fff" stroke-width="0.35" text-anchor="start" textLength="13.40" lengthAdjust="spacingAndGlyphs">do</text>
<path d="M452.80 446.40 H459.60 l5 5.6 h13 l5 -5.6 H563.80 a3.2 3.2 0 0 1 3.2 3.2 V478.60 a3.2 3.2 0 0 1 -3.2 3.2 H509.40 l-5 5.6 h-13 l-5 -5.6 H478.60 a2.4 2.4 0 0 0 -2.4 2.4 V496.80 a2.4 2.4 0 0 0 2.4 2.4 H486.40 l5 5.6 h13 l5 -5.6 H563.80 a3.2 3.2 0 0 1 3.2 3.2 V519.40 a3.2 3.2 0 0 1 -3.2 3.2 H482.60 l-5 5.6 h-13 l-5 -5.6 H452.80 a3.2 3.2 0 0 1 -3.2 -3.2 V449.60 a3.2 3.2 0 0 1 3.2 -3.2 Z" fill="#40bf4b" stroke="#38a943" stroke-width="0.8"/>
<text x="456.30" y="468.95" font-family="DejaVu Sans Mono, Liberation Mono, monospace" font-size="13.00" font-weight="bold" fill="#fff" stroke="#fff" stroke-width="0.35" text-anchor="start" textLength="34.40" lengthAdjust="spacingAndGlyphs">while</text>
<path d="M497.4 465 L507 454 H544.6 L554.2 465 L544.6 476 H507 Z" fill="#3f9fd2"/>
<text x="504.60" y="468.95" font-family="DejaVu Sans Mono, Liberation Mono, monospace" font-size="13.00" font-weight="bold" fill="#fff" stroke="#fff" stroke-width="0.35" text-anchor="start" textLength="27.40" lengthAdjust="spacingAndGlyphs">true</text>
<path d="M537.4 463 h8 l-4 4.4 Z" fill="#fff"/>
<text x="456.30" y="494.55" font-family="DejaVu Sans Mono, Liberation Mono, monospace" font-size="13.00" font-weight="bold" fill="#fff" stroke="#fff" stroke-width="0.35" text-anchor="start" textLength="13.40" lengthAdjust="spacingAndGlyphs">do</text>
<path d="M452.80 545.60 H459.60 l5 5.6 h13 l5 -5.6 H644.00 a3.2 3.2 0 0 1 3.2 3.2 V578.20 a3.2 3.2 0 0 1 -3.2 3.2 H509.40 l-5 5.6 h-13 l-5 -5.6 H478.60 a2.4 2.4 0 0 0 -2.4 2.4 V596.20 a2.4 2.4 0 0 0 2.4 2.4 H486.40 l5 5.6 h13 l5 -5.6 H644.00 a3.2 3.2 0 0 1 3.2 3.2 V619.40 a3.2 3.2 0 0 1 -3.2 3.2 H482.60 l-5 5.6 h-13 l-5 -5.6 H452.80 a3.2 3.2 0 0 1 -3.2 -3.2 V548.80 a3.2 3.2 0 0 1 3.2 -3.2 Z" fill="#40bf4b" stroke="#38a943" stroke-width="0.8"/>
<text x="456.30" y="567.75" font-family="DejaVu Sans Mono, Liberation Mono, monospace" font-size="13.00" font-weight="bold" fill="#fff" stroke="#fff" stroke-width="0.35" text-anchor="start" textLength="20.40" lengthAdjust="spacingAndGlyphs">for</text>
<rect x="485.60" y="552.60" width="51.40" height="22.40" rx="11.20" fill="#f85a7b"/>
<text x="494.00" y="567.75" font-family="DejaVu Sans Mono, Liberation Mono, monospace" font-size="13.00" font-weight="bold" fill="#fff" stroke="#fff" stroke-width="0.35" text-anchor="start" textLength="34.40" lengthAdjust="spacingAndGlyphs">index</text>
<text x="543.80" y="567.75" font-family="DejaVu Sans Mono, Liberation Mono, monospace" font-size="13.00" font-weight="bold" fill="#fff" stroke="#fff" stroke-width="0.35" text-anchor="start" textLength="62.40" lengthAdjust="spacingAndGlyphs">from 0 to</text>
<rect x="613.00" y="552.60" width="28.00" height="22.40" rx="11.20" fill="#fff"/>
<text x="627.00" y="567.75" font-family="DejaVu Sans Mono, Liberation Mono, monospace" font-size="13.00" font-weight="normal" fill="#4a4d63" stroke="#4a4d63" stroke-width="0.15" text-anchor="middle" textLength="6.40" lengthAdjust="spacingAndGlyphs">4</text>
<text x="456.30" y="594.15" font-family="DejaVu Sans Mono, Liberation Mono, monospace" font-size="13.00" font-weight="bold" fill="#fff" stroke="#fff" stroke-width="0.35" text-anchor="start" textLength="13.40" lengthAdjust="spacingAndGlyphs">do</text>
</svg>
<div id="header">
<svg width="800" height="48" viewBox="0 0 800 48">
<path d="M15.80 18.67 Q16.07 14.07 19.47 11.86 Q22.33 14.73 21.65 19.28 Q26.10 18.12 29.26 20.67 Q27.41 24.28 22.87 25.03 Q25.35 28.91 23.90 32.70 Q19.90 32.06 17.78 27.97 Q14.85 31.53 10.81 31.32 Q10.18 27.32 13.41 24.04 Q9.12 22.36 8.07 18.44 Q11.68 16.61 15.80 18.67 Z" fill="#fff"/>
<g fill="#0684b9"><ellipse cx="18.64" cy="19.72" rx="0.75" ry="1.5" transform="rotate(6 18.64 19.72)"/><ellipse cx="21.53" cy="22.31" rx="0.75" ry="1.5" transform="rotate(78 21.53 22.31)"/><ellipse cx="19.95" cy="25.86" rx="0.75" ry="1.5" transform="rotate(150 19.95 25.86)"/><ellipse cx="16.09" cy="25.45" rx="0.75" ry="1.5" transform="rotate(222 16.09 25.45)"/><ellipse cx="15.29" cy="21.66" rx="0.75" ry="1.5" transform="rotate(294 15.29 21.66)"/></g>
<text x="25" y="33" font-family="Liberation Sans, sans-serif" font-weight="bold" font-size="12.2" fill="#fff" stroke="#fff" stroke-width="0.3" textLength="44.5" lengthAdjust="spacingAndGlyphs">adafruit</text>
<!-- home icon -->
<g fill="#fff">
<path d="M105.8 16.2 L96.6 24 L97.8 25.3 L105.8 18.6 L113.8 25.3 L115 24 L111.9 21.3 L111.9 17.2 L109.7 17.2 L109.7 19.5 Z"/>
<path d="M105.8 19.8 L99.2 25.3 L99.2 30.4 L104 30.4 L104 26.3 L107.6 26.3 L107.6 30.4 L112.4 30.4 L112.4 25.3 Z"/>
</g>
<text x="122" y="27.9" font-family="Liberation Sans, sans-serif" font-size="14.4" fill="#fff" textLength="38.6" lengthAdjust="spacingAndGlyphs" stroke="#fff" stroke-width="0.5">HOME</text>
<!-- share icon -->
<g fill="#fff" stroke="#fff">
<line x1="193" y1="23" x2="203.2" y2="17.6" stroke-width="1.7"/>
<line x1="193" y1="23" x2="203.2" y2="28.4" stroke-width="1.7"/>
<circle cx="192.9" cy="23" r="3" stroke="none"/><circle cx="203.3" cy="17.6" r="3" stroke="none"/><circle cx="203.3" cy="28.4" r="3" stroke="none"/>
</g>
<text x="212.8" y="27.9" font-family="Liberation Sans, sans-serif" font-size="14.4" fill="#fff" textLength="40.4" lengthAdjust="spacingAndGlyphs" stroke="#fff" stroke-width="0.5">SHARE</text>
<!-- toggle -->
<rect x="427.5" y="2" width="231.5" height="42" rx="21" fill="#1b5f85"/>
<rect x="429.5" y="4" width="115" height="38" rx="19" fill="#fff"/>
<path d="M448.7 20.6 h2.5 v-2.5 q0 -1.8 1.9 -1.8 q1.9 0 1.9 1.8 v2.5 h3.1 v2.2 a1.5 1.5 0 0 0 0 3 v2.7 h-9.4 Z" fill="#0f7bb0"/>
<text x="466" y="27.4" font-family="Liberation Sans, sans-serif" font-size="13.6" fill="#0f7bb0" textLength="47.8" lengthAdjust="spacingAndGlyphs" stroke="#0f7bb0" stroke-width="0.45">BLOCKS</text>
<text x="559.6" y="26.6" font-family="Liberation Sans, sans-serif" font-size="12.5" fill="#a9cadb" textLength="12.4" lengthAdjust="spacingAndGlyphs">{ }</text>
<text x="577" y="27.4" font-family="Liberation Sans, sans-serif" font-size="13.6" fill="#b9d5e4" stroke="#b9d5e4" stroke-width="0.2" textLength="70.3" lengthAdjust="spacingAndGlyphs">JAVASCRIPT</text>
</svg>
</div>
<div class="abs hline" style="left:0;top:48px;width:800px;height:1px;background:rgba(6,132,185,0.45)"></div>
<svg width="800" height="610" viewBox="0 0 800 610">
<polygon points="219.6,383.2 219.6,382.0 220.8,380.0 247.6,354.4 276.0,327.6 286.7,317.1 308.0,297.4 333.0,274.3 342.8,265.0 334.3,260.5 373.6,249.9 357.5,287.2 354.3,278.3 343.6,286.6 317.2,308.0 294.6,326.2 282.7,335.4 252.1,359.7 222.9,382.4 220.8,383.4" fill="#f72a0b"/>
<polygon points="528.8,220.8 529.4,219.6 531.8,219.1 568.8,218.9 599.8,218.7 609.9,218.3 649.9,218.0 689.9,217.1 713.9,216.2 724.9,215.2 721.7,205.1 759.6,224.5 721.1,242.7 724.6,232.6 713.7,231.4 689.7,229.6 649.7,227.5 609.7,225.9 599.7,225.1 568.8,223.9 531.8,222.5 529.4,222.0" fill="#f72a0b"/>
<rect x="0" y="0" width="1.2" height="610" fill="rgba(0,0,0,0.35)"/>
</svg>
</body></html>
